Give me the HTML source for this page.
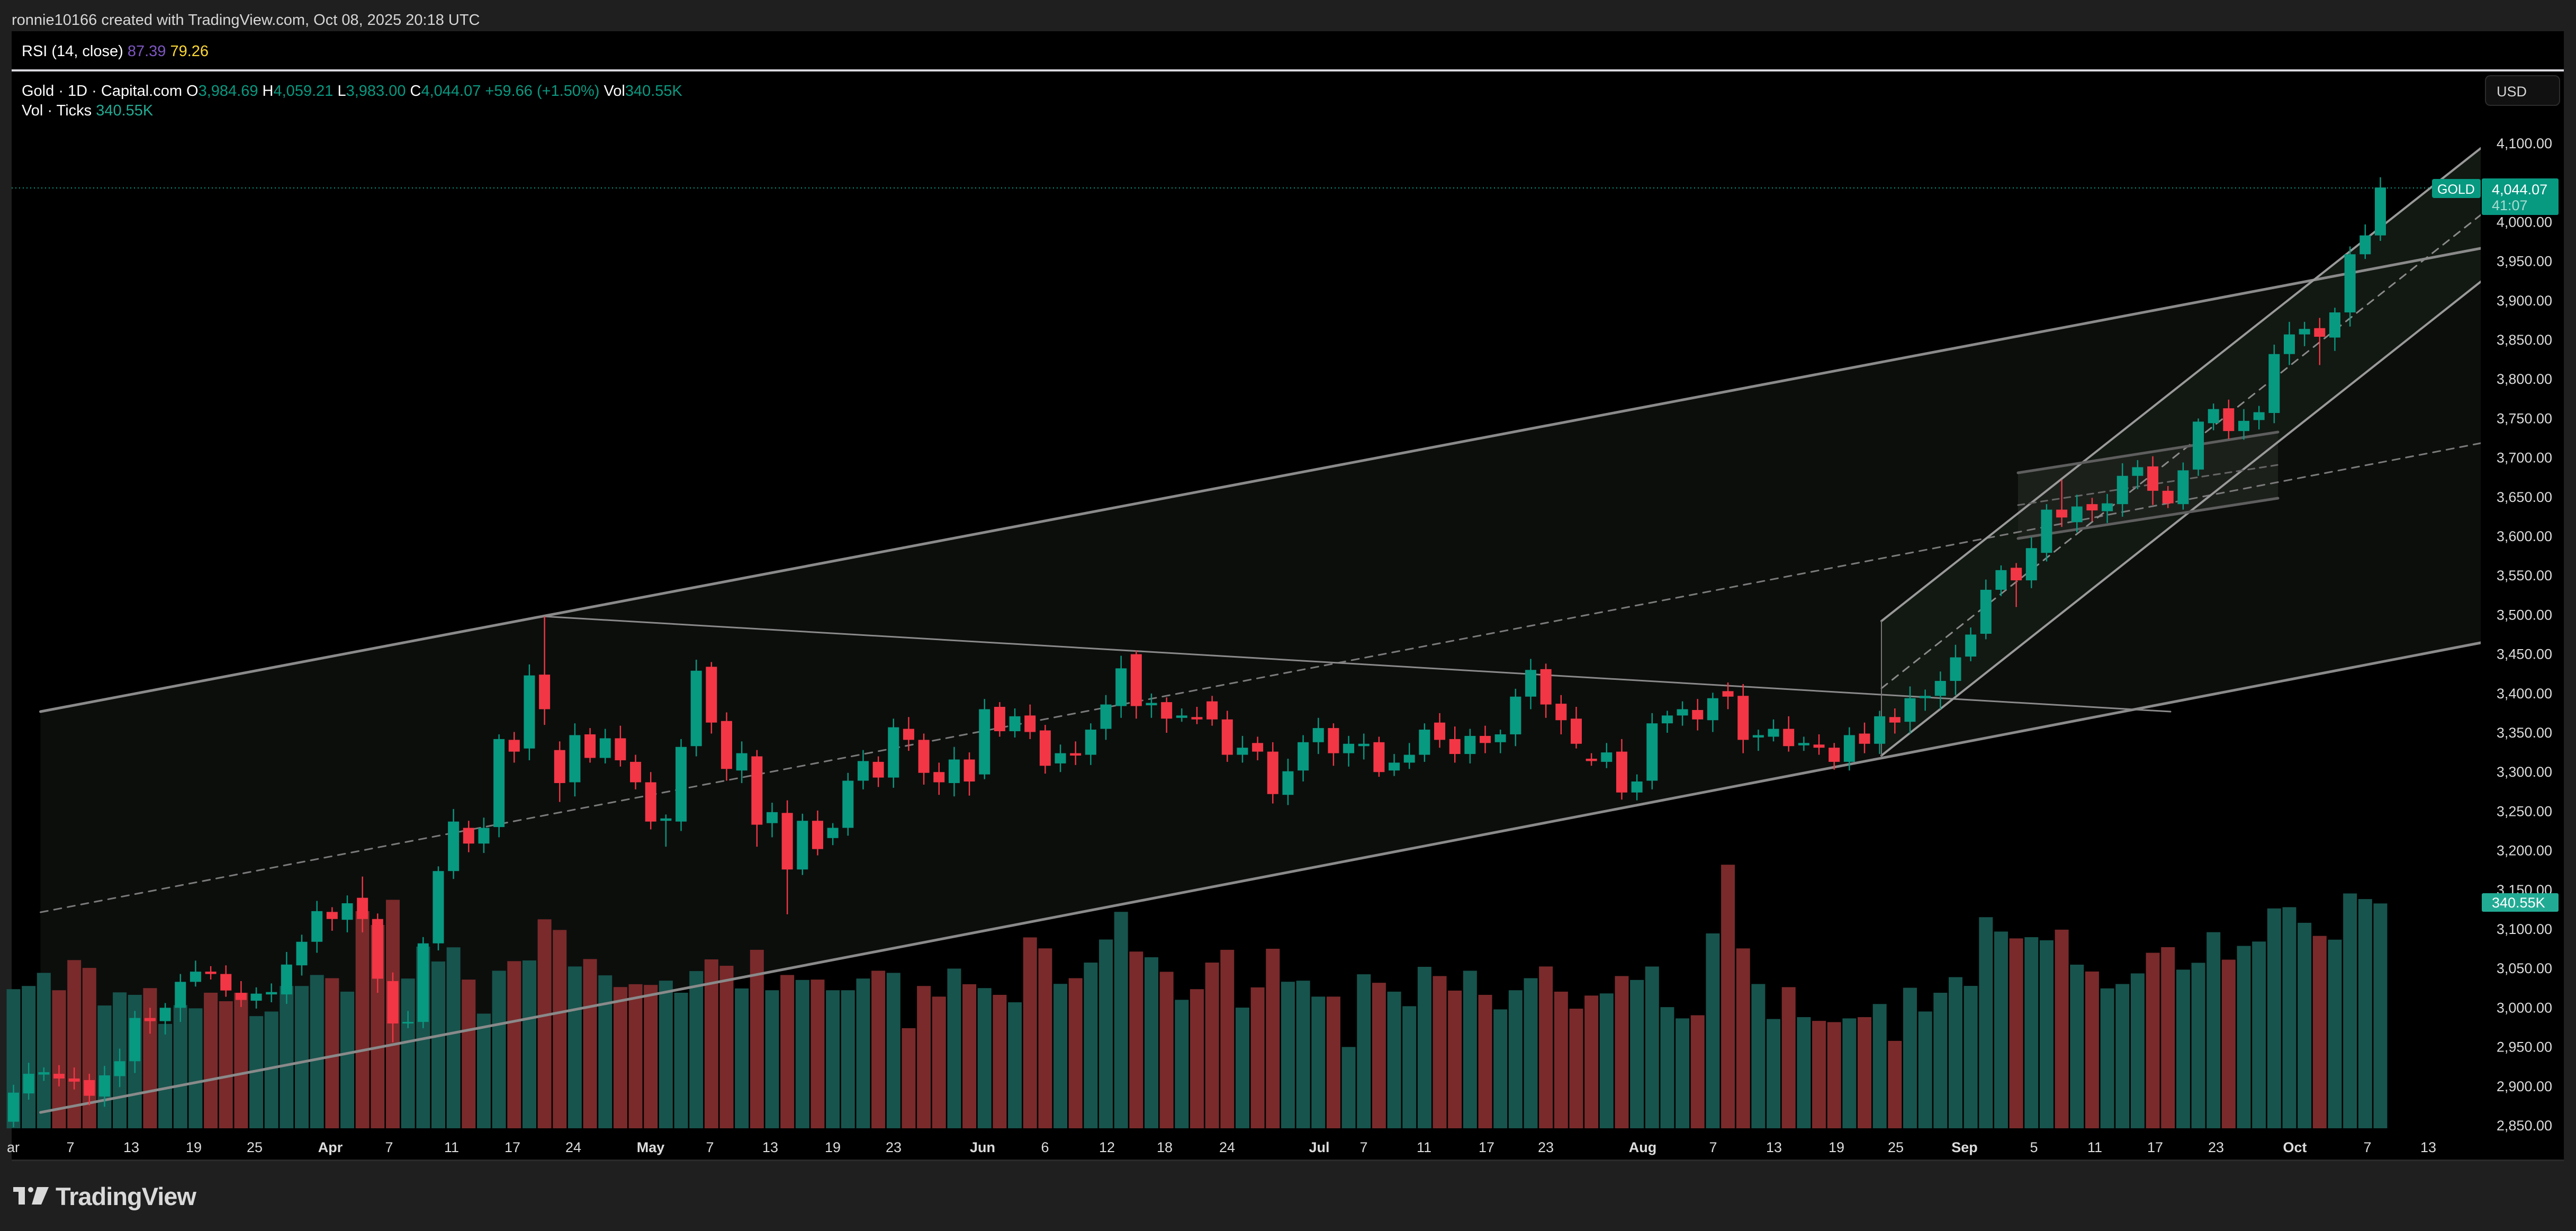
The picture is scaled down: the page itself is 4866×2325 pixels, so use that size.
<!DOCTYPE html>
<html><head><meta charset="utf-8"><style>
html,body{margin:0;padding:0;background:#000;}
svg{display:block;}
text{font-family:"Liberation Sans",sans-serif;}
</style></head><body>
<svg id="s" xmlns="http://www.w3.org/2000/svg" width="4866" height="2325" viewBox="0 0 4866 2325">
<rect x="0" y="0" width="4866" height="2325" fill="#1f1f1f"/>
<rect x="22" y="59" width="4821" height="2134" fill="#000"/>
<rect x="22" y="131" width="4821" height="4" fill="#d8d8de"/>
<!-- big channel fill -->
<polygon points="76.5,1344 4686,469 4686,1214 76.5,2101" fill="#0c0e0c"/>
<!-- steep channel fill -->
<polygon points="3554,1173 4686,280 4686,532 3554,1427" fill="#121812"/>
<!-- flag fill -->
<polygon points="3812,893 4303,816 4303,941 3812,1017" fill="#1c201b"/>
<g id="vol"></g>
<g fill="none" stroke-linecap="round">
<line x1="76.5" y1="1344" x2="4686" y2="469" stroke="#8a8a8a" stroke-width="5"/>
<line x1="76.5" y1="2101" x2="4686" y2="1214" stroke="#8a8a8a" stroke-width="5"/>
<line x1="76.5" y1="1723" x2="4686" y2="837" stroke="#7a7a7a" stroke-width="3" stroke-dasharray="14 12"/>
<line x1="1025" y1="1164" x2="4100" y2="1344" stroke="#8a8a8a" stroke-width="3"/>
<line x1="3554" y1="1173" x2="4686" y2="280" stroke="#9a9a9a" stroke-width="4"/>
<line x1="3554" y1="1427" x2="4686" y2="532" stroke="#9a9a9a" stroke-width="4"/>
<line x1="3554" y1="1300" x2="4686" y2="406" stroke="#8a8a8a" stroke-width="3" stroke-dasharray="14 12"/>
<line x1="3554" y1="1173" x2="3554" y2="1427" stroke="#777" stroke-width="2"/>
<line x1="3812" y1="893" x2="4303" y2="816" stroke="#5e5e5e" stroke-width="5"/>
<line x1="3812" y1="1017" x2="4303" y2="941" stroke="#5e5e5e" stroke-width="5"/>
<line x1="3812" y1="954" x2="4303" y2="878" stroke="#666" stroke-width="3" stroke-dasharray="12 10"/>
</g>
<line x1="22" y1="355" x2="4594" y2="355" stroke="#089981" stroke-width="2" stroke-dasharray="2 5"/>
<g id="cd"></g>
<rect x="4686" y="137" width="157" height="2056" fill="#000"/>
<!-- header texts -->
<text x="22" y="47" font-size="29" fill="#d6d6d6">ronnie10166 created with TradingView.com, Oct 08, 2025 20:18 UTC</text>
<text x="41" y="106" font-size="29" fill="#fff">RSI (14, close) <tspan fill="#7e57c2">87.39</tspan> <tspan fill="#fdd835">79.26</tspan></text>
<text x="41" y="181" font-size="29" fill="#fff">Gold · 1D · Capital.com  O<tspan fill="#089981">3,984.69</tspan>  H<tspan fill="#089981">4,059.21</tspan>  L<tspan fill="#089981">3,983.00</tspan>  C<tspan fill="#089981">4,044.07</tspan>  <tspan fill="#089981">+59.66 (+1.50%)</tspan>  Vol<tspan fill="#089981">340.55K</tspan></text>
<text x="41" y="218" font-size="29" fill="#fff">Vol · Ticks <tspan fill="#22ab94">340.55K</tspan></text>
<!-- USD box -->
<rect x="4695" y="143" width="140" height="56" rx="9" fill="#111" stroke="#2c2c2c" stroke-width="2"/>
<text x="4716" y="182" font-size="27" fill="#d6d6d6">USD</text>
<g id="pax" font-size="27" fill="#dcdcdc" text-anchor="end"></g>
<!-- price labels -->
<rect x="4594" y="338" width="92" height="36" rx="4" fill="#089981"/>
<text x="4604" y="366" font-size="25" fill="#fff">GOLD</text>
<rect x="4688" y="337" width="145" height="69" rx="3" fill="#089981"/>
<text x="4707" y="367" font-size="27" fill="#fff">4,044.07</text>
<text x="4707" y="397" font-size="27" fill="#a9ddd2">41:07</text>
<rect x="4688" y="1687" width="145" height="35" rx="3" fill="#22ab94"/>
<text x="4707" y="1714" font-size="27" fill="#fff">340.55K</text>
<!-- time axis -->
<g font-size="27" fill="#dcdcdc" text-anchor="middle">
<text x="25" y="2176">ar</text><text x="133" y="2176">7</text><text x="248" y="2176">13</text><text x="366" y="2176">19</text><text x="481" y="2176">25</text>
<text x="624" y="2176" font-weight="bold">Apr</text><text x="735" y="2176">7</text><text x="853" y="2176">11</text><text x="968" y="2176">17</text><text x="1083" y="2176">24</text>
<text x="1229" y="2176" font-weight="bold">May</text><text x="1341" y="2176">7</text><text x="1455" y="2176">13</text><text x="1573" y="2176">19</text><text x="1688" y="2176">23</text>
<text x="1856" y="2176" font-weight="bold">Jun</text><text x="1974" y="2176">6</text><text x="2091" y="2176">12</text><text x="2200" y="2176">18</text><text x="2318" y="2176">24</text>
<text x="2492" y="2176" font-weight="bold">Jul</text><text x="2576" y="2176">7</text><text x="2690" y="2176">11</text><text x="2808" y="2176">17</text><text x="2920" y="2176">23</text>
<text x="3103" y="2176" font-weight="bold">Aug</text><text x="3236" y="2176">7</text><text x="3351" y="2176">13</text><text x="3469" y="2176">19</text><text x="3581" y="2176">25</text>
<text x="3711" y="2176" font-weight="bold">Sep</text><text x="3842" y="2176">5</text><text x="3957" y="2176">11</text><text x="4071" y="2176">17</text><text x="4186" y="2176">23</text>
<text x="4335" y="2176" font-weight="bold">Oct</text><text x="4472" y="2176">7</text><text x="4587" y="2176">13</text>
</g>
<rect x="22" y="2190" width="4821" height="3" fill="#2a2a2a"/>
<!-- logo -->
<g fill="#d9d9d9">
<rect x="25" y="2242" width="22" height="9"/>
<rect x="35" y="2242" width="12" height="33"/>
<circle cx="58" cy="2247" r="5"/>
<polygon points="70,2242 92,2242 78,2275 60,2275"/>
</g>
<text x="105" y="2276" font-size="47" font-weight="bold" fill="#d9d9d9" letter-spacing="-1">TradingView</text>
</svg>
<script>
var D=[[2855,2892,1147],[2891,2916,1138],[2916,2917,1101],[2916,2910,1150],[2909,2907,1065],[2908,2888,1087],[2887,2914,1193],[2913,2932,1156],[2932,2987,1163],[2987,2983,1144],
[2983,3000,1245],[3000,3033,1192],[3033,3046,1201],[3046,3043,1157],[3043,3022,1181],[3019,3010,1157],[3009,3018,1223],[3018,3019,1210],[3017,3055,1138],[3054,3084,1138],
[3084,3123,1107],[3122,3113,1116],[3112,3133,1154],[3140,3113,927],[3113,3037,966],[3034,2980,895],[2981,2981,1117],[2982,3082,1027],[3082,3174,1069],[3174,3237,1029],
[3229,3209,1120],[3209,3229,1216],[3230,3342,1095],[3341,3326,1068],[3330,3423,1066],[3424,3380,950],[3328,3286,980],[3287,3347,1083],[3348,3318,1062],[3318,3343,1108],
[3343,3315,1141],[3313,3287,1133],[3287,3237,1135],[3239,3240,1123],[3237,3332,1157],[3333,3429,1096],[3434,3363,1063],[3365,3304,1081],[3302,3324,1145],[3320,3233,1036],
[3235,3249,1150],[3248,3176,1107],[3176,3238,1121],[3238,3202,1120],[3216,3229,1150],[3229,3289,1150],[3289,3314,1117],[3313,3293,1095],[3293,3357,1101],[3355,3341,1257],
[3341,3299,1138],[3300,3287,1168],[3286,3316,1089],[3316,3288,1133],[3297,3380,1144],[3383,3352,1163],[3352,3371,1184],[3372,3351,1001],[3353,3308,1032],[3311,3324,1132],
[3324,3321,1116],[3322,3354,1072],[3355,3386,1007],[3384,3432,929],[3450,3384,1041],[3386,3387,1057],[3389,3368,1098],[3370,3371,1177],[3369,3368,1147],[3390,3367,1072],
[3367,3322,1036],[3322,3331,1199],[3337,3326,1142],[3326,3272,1033],[3271,3301,1126],[3302,3338,1123],[3338,3356,1168],[3356,3324,1168],[3324,3336,1310],[3334,3335,1105],
[3338,3300,1129],[3302,3312,1154],[3312,3322,1195],[3322,3354,1084],[3363,3341,1110],[3342,3323,1151],[3323,3346,1095],[3346,3337,1163],[3338,3348,1204],[3348,3396,1150],
[3396,3430,1116],[3431,3386,1083],[3387,3366,1154],[3368,3336,1202],[3316,3315,1165],[3313,3325,1159],[3326,3274,1110],[3274,3288,1121],
[3289,3362,1293],[3362,3372,1358],[3372,3380,1376],[3379,3367,1371],[3366,3394,1240],[3403,3396,1130],[3397,3341,1264],[3345,3346,1321],[3345,3355,1377],[3355,3333,1326],
[3335,3336,1374],[3335,3331,1380],[3331,3313,1382],[3313,3347,1376],[3349,3336,1374],[3336,3371,1353],[3370,3363,1412],[3364,3394,1327],[3394,3397,1365],[3397,3416,1335],
[3416,3446,1310],[3447,3475,1324],[3476,3532,1214],[3532,3557,1237],[3560,3544,1248],[3544,3585,1246],[3579,3634,1251],[3634,3624,1234],[3618,3638,1290],[3641,3633,1301],
[3632,3642,1328],[3641,3677,1321],[3677,3688,1304],[3689,3658,1271],[3658,3642,1262],[3641,3684,1298],[3685,3746,1287],[3744,3762,1238],[3763,3734,1282],[3734,3747,1260],
[3748,3758,1253],[3757,3832,1200],[3832,3857,1198],[3857,3864,1223],[3865,3854,1244],[3853,3885,1250],[3885,3959,1176],[3959,3983,1185],[3983,4044,1192]];
var HI={24:3167,36:3498,47:3440,75:3455,133:3566,136:3672,157:4057,29:3180,145:3750};
var LO={26:2956,52:3119,133:3510,153:3818,44:3205,50:3205,36:3360,37:3262};
function Y(p){return 271+(4100-p)*1.484;}
var ns="http://www.w3.org/2000/svg";
function el(g,t,a){var e=document.createElementNS(ns,t);for(var k in a)e.setAttribute(k,a[k]);g.appendChild(e);return e;}
var gv=document.getElementById('vol'),gc=document.getElementById('cd');
for(var i=0;i<D.length;i++){
 var n=i+1,d=D[i],x=25.5+i*28.66,o=d[0],c=d[1],up=c>=o;
 var vy=n<=108?1100+d[2]/1.493:300+d[2]/0.8476;
 el(gv,'rect',{x:x-13,y:vy,width:26,height:2131-vy,fill:up?'#17544d':'#7a2a2b'});
 var w=6+((n*37)%11);
 var hi=HI[n]||Math.max(o,c)+w, lo=LO[n]||Math.min(o,c)-(6+((n*53)%13));
 var col=up?'#089981':'#f23645';
 el(gc,'rect',{x:x-1.2,y:Y(hi),width:2.4,height:Y(lo)-Y(hi),fill:col});
 var t=Y(Math.max(o,c)),b=Y(Math.min(o,c));if(b-t<3){t-=1.5;b+=1.5;}
 el(gc,'rect',{x:x-10.5,y:t,width:21,height:b-t,fill:col});
}
var pa=document.getElementById('pax');
for(var p=4100;p>=2850;p-=50){var y=Y(p);if(p===4050)continue;
 var s=p.toString();s=s[0]+','+s.slice(1)+'.00';
 var t=el(pa,'text',{x:4821,y:y+9});t.textContent=s;}
</script>
</body></html>
